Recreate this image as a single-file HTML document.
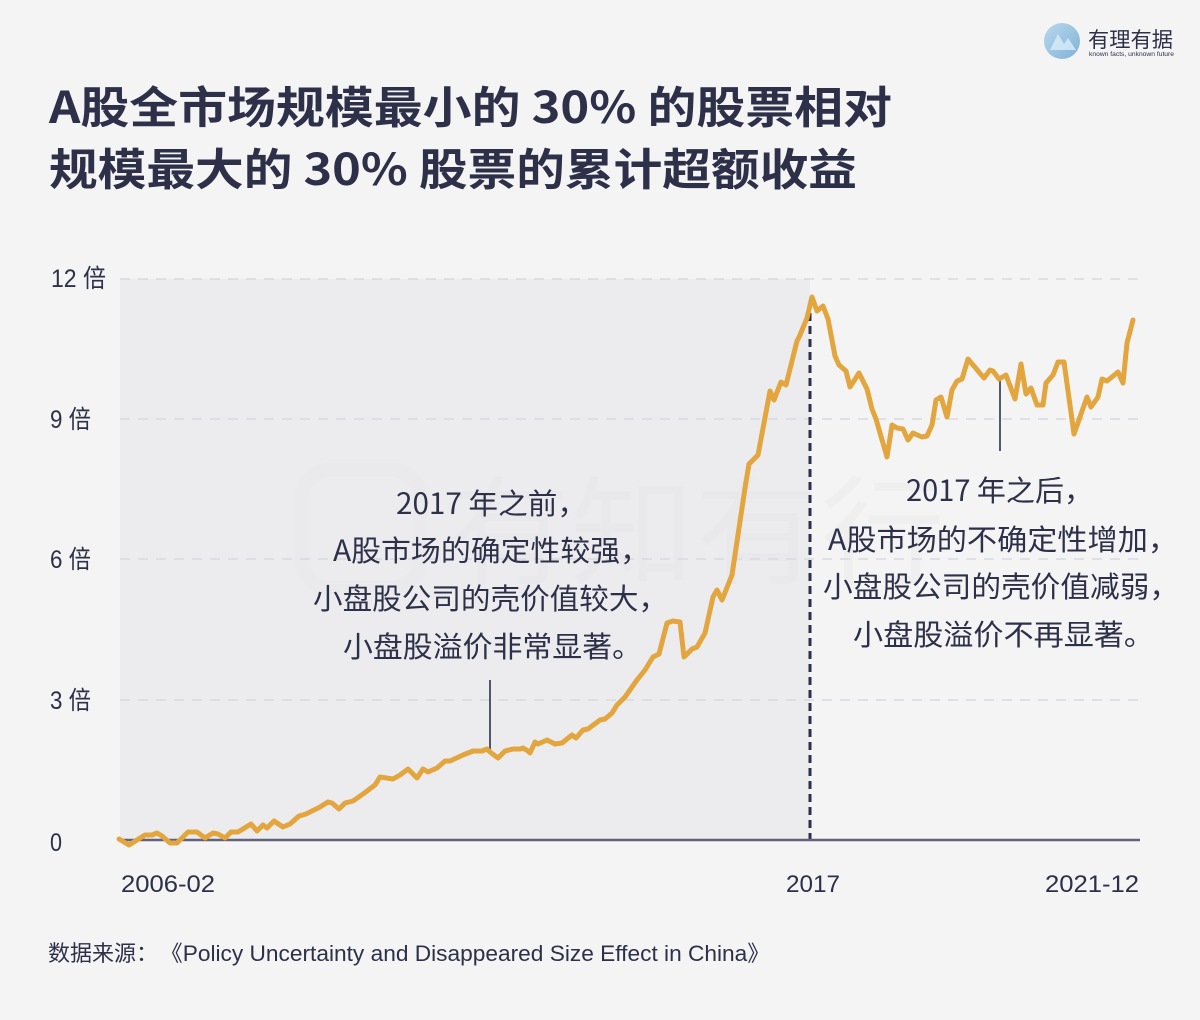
<!DOCTYPE html>
<html>
<head>
<meta charset="utf-8">
<style>
html,body{margin:0;padding:0;background:#f4f4f4;}
body{width:1200px;height:1020px;overflow:hidden;}
svg{display:block;}
text{font-family:"Liberation Sans","Noto Sans CJK SC",sans-serif;fill:#2d3048;}
.cjk{font-family:"Noto Sans CJK SC","Liberation Sans",sans-serif;}
</style>
</head>
<body>
<svg width="1200" height="1020" viewBox="0 0 1200 1020" xmlns="http://www.w3.org/2000/svg">
  <defs>
    <linearGradient id="lg" x1="0" y1="0" x2="1" y2="1">
      <stop offset="0" stop-color="#b9d8ee"/>
      <stop offset="1" stop-color="#7fb2d6"/>
    </linearGradient>
  </defs>
  <rect width="1200" height="1020" fill="#f4f4f4"/>

  <!-- logo -->
  <circle cx="1062" cy="41" r="18" fill="url(#lg)"/>
  <path d="M1050 50 L1058 34 L1064 44 L1068 38 L1076 50 Z" fill="#d9ecf7" opacity="0.8"/>
  <text class="cjk" x="1088" y="47" font-size="21" textLength="85" lengthAdjust="spacingAndGlyphs">有理有据</text>
  <text x="1089" y="56" font-size="6" textLength="85" lengthAdjust="spacingAndGlyphs">known facts, unknown future</text>

  <!-- title -->
  <text class="cjk" x="49" y="123" font-size="44" font-weight="bold" textLength="843" lengthAdjust="spacingAndGlyphs">A股全市场规模最小的 30% 的股票相对</text>
  <text class="cjk" x="49" y="185" font-size="44" font-weight="bold" textLength="808" lengthAdjust="spacingAndGlyphs">规模最大的 30% 股票的累计超额收益</text>

  <!-- shaded region -->
  <rect x="120" y="279" width="690" height="561" fill="#ececee"/>

  <!-- watermark -->
  <rect x="302" y="470" width="118" height="118" rx="28" fill="none" stroke="#e5e5e8" stroke-width="14" opacity="0.3"/>
  <text class="cjk" x="445" y="575" font-size="118" style="fill:#e4e4e7" opacity="0.25" textLength="500" lengthAdjust="spacingAndGlyphs">有知有行</text>

  <!-- grid -->
  <g stroke="#d8d8e1" stroke-width="1.5" stroke-dasharray="10 8">
    <line x1="120" y1="279" x2="1140" y2="279"/>
    <line x1="120" y1="419" x2="1140" y2="419"/>
    <line x1="120" y1="559" x2="1140" y2="559"/>
    <line x1="120" y1="700" x2="1140" y2="700"/>
  </g>

  <!-- y labels -->
  <text x="51" y="287" font-size="25" textLength="55" lengthAdjust="spacingAndGlyphs">12 倍</text>
  <text x="50" y="428" font-size="25" textLength="41" lengthAdjust="spacingAndGlyphs">9 倍</text>
  <text x="50" y="568" font-size="25" textLength="41" lengthAdjust="spacingAndGlyphs">6 倍</text>
  <text x="50" y="709" font-size="25" textLength="41" lengthAdjust="spacingAndGlyphs">3 倍</text>
  <text x="50" y="851" font-size="25" textLength="12" lengthAdjust="spacingAndGlyphs">0</text>

  <!-- annotation leader lines -->
  <line x1="490" y1="680" x2="490" y2="750" stroke="#2d3048" stroke-width="1.6"/>
  <line x1="1000" y1="379" x2="1000" y2="451" stroke="#2d3048" stroke-width="1.6"/>

  <!-- dashed vertical 2017 -->
  <line x1="810" y1="300" x2="810" y2="840" stroke="#2d3048" stroke-width="3" stroke-dasharray="8 5"/>

  <!-- axis -->
  <line x1="120" y1="840" x2="1140" y2="840" stroke="#62627a" stroke-width="2.5"/>

  <!-- series -->
  <polyline fill="none" stroke="#e3a53e" stroke-width="5" stroke-linejoin="round" stroke-linecap="round"
    points="119,839 129,845 145,835 152,835 157,833 162,836 170,843 177,843 188,832 197,832 205,838 213,833 218,834 225,838 231,832 238,832 251,824 257,831 263,825 267,828 274,821 283,827 290,824 299,816 306,814 320,807 328,802 332,803 339,809 345,803 353,801 363,794 375,785 380,777 393,779 400,775 408,769 417,778 423,769 428,772 437,768 445,761 450,761 463,755 473,751 482,751 487,749 490,752 498,758 505,751 513,749 520,749 523,748 528,751 530,753 535,742 538,744 547,740 555,744 562,743 572,735 576,738 583,730 588,729 600,720 605,719 612,713 617,705 625,697 637,680 645,670 653,657 659,654 667,623 673,621 680,622 684,657 692,649 697,647 705,633 713,597 717,590 722,600 732,575 745,488 749,464 758,455 770,391 774,400 781,382 786,385 797,341 800,335 807,318 812,297 817,311 823,306 828,319 835,356 839,365 846,371 850,387 859,373 867,389 872,409 876,419 887,457 892,425 897,428 903,429 908,440 913,433 922,437 927,436 932,425 936,400 941,397 947,417 952,390 957,381 962,379 968,359 984,378 990,370 993,371 999,379 1006,375 1015,399 1021,364 1026,394 1031,388 1037,405 1043,405 1046,383 1053,375 1058,362 1064,362 1074,434 1087,397 1091,407 1098,397 1102,379 1107,381 1118,372 1123,383 1127,343 1133,320"/>

  <!-- left annotation -->
  <g font-size="29">
    <text class="cjk" x="396" y="514" textLength="191" lengthAdjust="spacingAndGlyphs">2017 年之前，</text>
    <text class="cjk" x="333" y="561" textLength="317" lengthAdjust="spacingAndGlyphs">A股市场的确定性较强，</text>
    <text class="cjk" x="313" y="609" textLength="355" lengthAdjust="spacingAndGlyphs">小盘股公司的壳价值较大，</text>
    <text class="cjk" x="343" y="657" textLength="299" lengthAdjust="spacingAndGlyphs">小盘股溢价非常显著。</text>
  </g>

  <!-- right annotation -->
  <g font-size="29">
    <text class="cjk" x="906" y="501" textLength="187" lengthAdjust="spacingAndGlyphs">2017 年之后，</text>
    <text class="cjk" x="828" y="550" textLength="350" lengthAdjust="spacingAndGlyphs">A股市场的不确定性增加，</text>
    <text class="cjk" x="823" y="597" textLength="356" lengthAdjust="spacingAndGlyphs">小盘股公司的壳价值减弱，</text>
    <text class="cjk" x="853" y="645" textLength="301" lengthAdjust="spacingAndGlyphs">小盘股溢价不再显著。</text>
  </g>

  <!-- x labels -->
  <text x="121" y="892" font-size="24" textLength="94" lengthAdjust="spacingAndGlyphs">2006-02</text>
  <text x="786" y="892" font-size="24" textLength="54" lengthAdjust="spacingAndGlyphs">2017</text>
  <text x="1045" y="892" font-size="24" textLength="94" lengthAdjust="spacingAndGlyphs">2021-12</text>

  <!-- source -->
  <text class="cjk" x="48" y="961" font-size="22" textLength="110" lengthAdjust="spacingAndGlyphs">数据来源：</text>
  <text x="160" y="961" font-size="22" textLength="610" lengthAdjust="spacingAndGlyphs">《Policy Uncertainty and Disappeared Size Effect in China》</text>
</svg>
</body>
</html>
